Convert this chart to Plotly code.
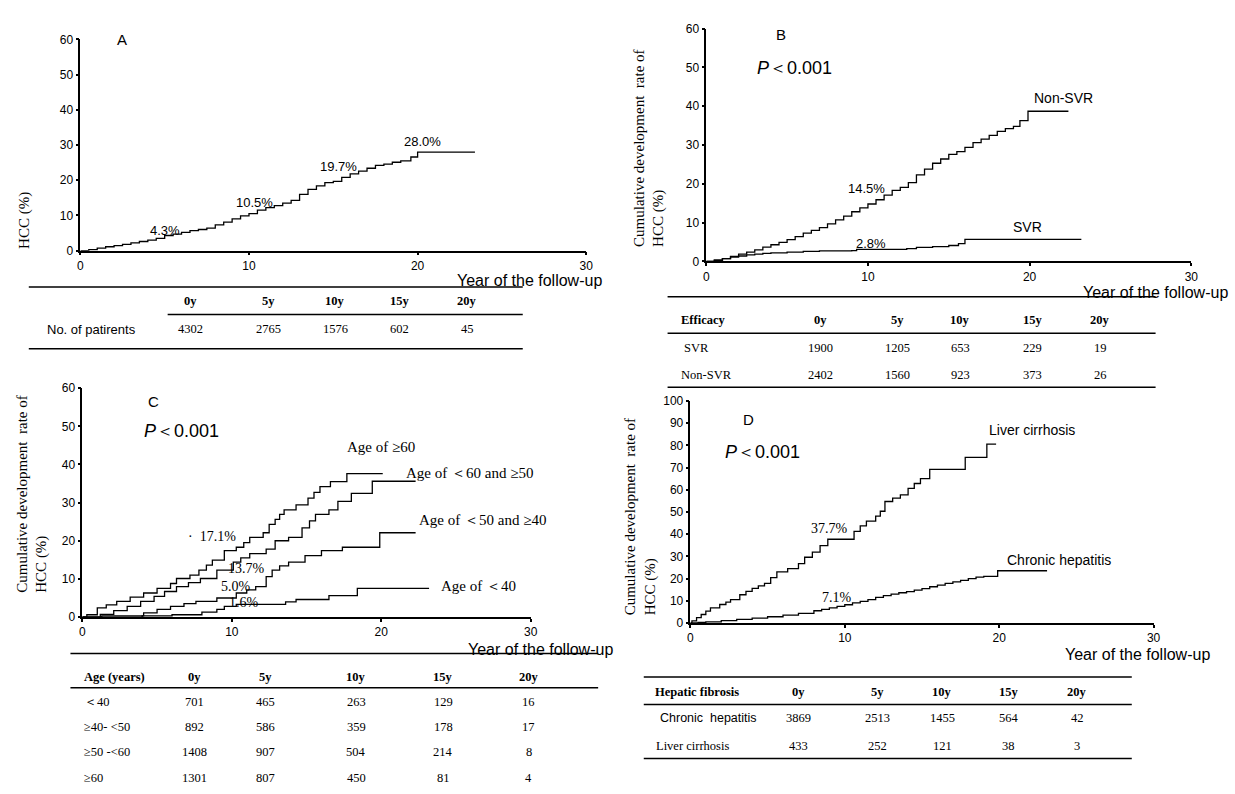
import plotly.graph_objects as go

W, H = 1235, 794
SERIF = "Liberation Serif"
SANS = "Liberation Sans"

# ---------------- data ----------------
# Panel A: all patients
a_years = [0, 0.5, 1.0, 1.5, 2.0, 2.5, 3.0, 3.5, 4.0, 4.5, 5.0, 5.5, 6.0, 6.5, 7.0, 7.5, 8.0, 8.5,
           9.0, 9.5, 10.0, 10.5, 11.0, 11.5, 12.0, 12.5, 13.0, 13.5, 14.0, 14.5, 15.0, 15.5, 16.0,
           16.5, 17.0, 17.5, 18.0, 18.5, 19.0, 19.6, 20.0, 23.4]
a_hcc = [0, 0.3, 0.7, 1.1, 1.4, 1.8, 2.2, 2.6, 3.0, 3.5, 4.3, 4.7, 5.2, 5.7, 6.0, 6.4, 7.3, 8.1,
         9.0, 9.9, 10.5, 11.5, 12.2, 12.8, 13.5, 14.3, 16.0, 17.4, 18.4, 19.3, 19.7, 20.8, 21.8,
         22.6, 23.4, 24.2, 24.6, 25.1, 25.5, 26.6, 28.0, 28.0]

# Panel B: efficacy
b_nonsvr_years = [0, 0.5, 1.0, 1.5, 2.0, 2.5, 3.0, 3.5, 4.0, 4.5, 5.0, 5.5, 6.0, 6.5, 7.0, 7.5,
                  8.0, 8.5, 9.0, 9.5, 10.0, 10.5, 11.0, 11.5, 12.0, 12.5, 13.0, 13.5, 14.0, 14.5,
                  15.0, 15.5, 16.0, 16.5, 17.0, 17.5, 18.0, 18.5, 19.0, 19.4, 19.9, 22.4]
b_nonsvr_rate = [0, 0.3, 0.7, 1.3, 1.9, 2.4, 3.0, 3.7, 4.3, 4.9, 5.6, 6.4, 7.3, 8.0, 8.7, 9.7,
                 10.7, 11.7, 12.8, 13.8, 14.8, 15.9, 17.1, 18.3, 19.1, 20.3, 22.3, 23.8, 25.3, 26.4,
                 27.6, 28.3, 29.4, 30.6, 31.5, 32.5, 33.5, 34.2, 34.8, 36.3, 38.7, 38.7]
b_svr_years = [0, 0.5, 1.0, 1.5, 2.0, 2.5, 3.0, 3.5, 4.0, 5.0, 6.0, 7.0, 9.0, 9.3, 12.4, 13.0,
               14.0, 15.0, 15.6, 16.0, 23.2]
b_svr_rate = [0, 0.3, 0.7, 1.1, 1.4, 1.7, 1.9, 2.1, 2.2, 2.4, 2.6, 2.7, 2.8, 3.1, 3.3, 3.6,
              3.8, 4.1, 4.6, 5.7, 5.7]

# Panel C: age groups
c_ge60_years = [0, 0.3, 1.0, 1.6, 2.3, 3.2, 4.1, 5.0, 5.9, 6.3, 7.2, 7.8, 8.3, 8.7, 9.5, 10.3,
                10.8, 11.2, 12.1, 12.5, 12.9, 13.2, 13.5, 14.3, 15.1, 15.5, 15.9, 16.6, 17.7, 20.1]
c_ge60_rate = [0, 0.6, 2.4, 3.2, 4.1, 5.2, 6.3, 7.5, 8.8, 10.1, 11.0, 12.3, 13.6, 14.9, 17.4, 18.3,
               19.5, 20.9, 22.1, 24.3, 25.6, 26.9, 28.1, 29.4, 31.2, 32.7, 34.2, 35.5, 37.6, 37.6]
c_50_60_years = [0, 1.2, 2.1, 3.0, 3.9, 4.8, 5.5, 6.3, 7.1, 7.9, 9.0, 10.1, 10.6, 11.2, 12.3, 12.9,
                 13.8, 14.7, 15.2, 15.6, 16.5, 17.1, 18.0, 19.4, 22.3]
c_50_60_rate = [0, 0.7, 1.7, 2.8, 4.1, 5.4, 6.7, 8.0, 9.0, 10.1, 12.3, 14.4, 15.5, 16.6, 17.8, 20.0,
                20.9, 23.4, 25.2, 26.9, 28.1, 30.3, 32.4, 35.6, 35.6]
c_40_50_years = [0, 1.3, 4.1, 5.0, 5.9, 6.8, 7.6, 9.0, 10.3, 11.0, 11.6, 12.3, 12.7, 13.2, 13.8,
                 14.9, 16.0, 17.4, 19.9, 22.3]
c_40_50_rate = [0, 0.3, 1.1, 2.0, 2.8, 3.5, 4.1, 5.0, 6.3, 7.1, 8.0, 10.6, 12.3, 13.4, 14.4,
                16.1, 17.4, 18.3, 22.1, 22.1]
c_lt40_years = [0, 4.0, 6.0, 8.0, 9.0, 9.5, 10.3, 13.6, 14.3, 16.5, 18.4, 23.2]
c_lt40_rate = [0, 0.3, 0.6, 1.3, 2.0, 2.8, 3.3, 4.0, 4.6, 5.6, 7.5, 7.5]

# Panel D: hepatic fibrosis
d_lc_years = [0, 0.1, 0.4, 0.7, 1.0, 1.3, 1.9, 2.3, 2.6, 3.2, 3.6, 4.0, 4.4, 4.8, 5.2, 5.6, 6.3,
              7.0, 7.4, 7.9, 8.4, 8.9, 10.6, 11.0, 11.4, 12.0, 12.3, 12.6, 13.1, 13.6, 14.1,
              14.5, 14.9, 15.5, 17.8, 19.2, 19.8]
d_lc_rate = [0, 0.9, 2.4, 3.8, 5.3, 6.8, 8.3, 9.4, 10.5, 12.7, 14.2, 15.6, 16.7, 17.8, 20.4, 23.0,
             24.5, 26.7, 29.6, 31.9, 34.8, 37.7, 41.2, 43.7, 45.9, 48.1, 50.3, 54.7, 56.2, 57.7,
             60.6, 62.8, 65.0, 69.2, 74.6, 80.5, 80.5]
d_ch_years = [0, 0.5, 1.0, 2.0, 3.0, 4.0, 5.0, 6.0, 7.0, 8.0, 8.5, 9.0, 9.5, 10.0, 10.5, 11.0,
              11.5, 12.0, 12.5, 13.0, 13.5, 14.0, 14.5, 15.0, 15.5, 16.0, 16.5, 17.0, 17.5, 18.0,
              18.5, 19.0, 19.9, 23.1]
d_ch_rate = [0, 0.3, 0.5, 1.0, 1.6, 2.2, 2.8, 3.5, 4.3, 5.5, 6.1, 6.8, 7.5, 8.2, 9.0, 9.7,
             10.5, 11.5, 12.3, 13.0, 13.6, 14.1, 14.8, 15.5, 16.3, 17.0, 17.8, 18.5, 19.2, 20.0,
             20.6, 21.0, 23.5, 23.5]

# Tables
year_cols = ["0y", "5y", "10y", "15y", "20y"]
a_row_label = "No. of patirents"
a_counts = [4302, 2765, 1576, 602, 45]
b_groups = ["SVR", "Non-SVR"]
b_counts = [[1900, 1205, 653, 229, 19], [2402, 1560, 923, 373, 26]]
c_groups = ["\uff1c40", "\u226540- <50", "\u226550 -<60", "\u226560"]
c_counts = [[701, 465, 263, 129, 16], [892, 586, 359, 178, 17],
            [1408, 907, 504, 214, 8], [1301, 807, 450, 81, 4]]
d_groups = ["Chronic  hepatitis", "Liver cirrhosis"]
d_counts = [[3869, 2513, 1455, 564, 42], [433, 252, 121, 38, 3]]


def px(x):
    return x / W


def py(y):
    return 1 - y / H


fig = go.Figure()

LINE = dict(color="black", width=1.3, shape="hv")


def add_curve(xs, ys, ax):
    fig.add_trace(go.Scatter(x=xs, y=ys, mode="lines", line=LINE, xaxis="x" + ax, yaxis="y" + ax,
                             showlegend=False, hoverinfo="skip"))


add_curve(a_years, a_hcc, "")
add_curve(b_nonsvr_years, b_nonsvr_rate, "2")
add_curve(b_svr_years, b_svr_rate, "2")
add_curve(c_ge60_years, c_ge60_rate, "3")
add_curve(c_50_60_years, c_50_60_rate, "3")
add_curve(c_40_50_years, c_40_50_rate, "3")
add_curve(c_lt40_years, c_lt40_rate, "3")
add_curve(d_lc_years, d_lc_rate, "4")
add_curve(d_ch_years, d_ch_rate, "4")

ax_common = dict(showline=True, linecolor="black", linewidth=1.5, ticks="outside", ticklen=3,
                 tickcolor="black", tickwidth=1.5, showgrid=False, zeroline=False,
                 tickfont=dict(family=SANS, size=12, color="black"), fixedrange=True)

# panel geometry (pixels): x at 0, x at 30, y at 0, y at top value, top value
panels = {
    "": (78, 588, 248, 33, 60),
    "2": (709, 1198, 259, 22, 60),
    "3": (80, 532, 621, 388, 60),
    "4": (693, 1160, 627, 401, 100),
}
layout_axes = {}
for key, (x0, x30, y0, yt, ytv) in panels.items():
    layout_axes["xaxis" + key] = dict(ax_common, domain=[px(x0), px(x30)], range=[0, 30],
                                      tickvals=[0, 10, 20, 30], anchor="y" + key)
    layout_axes["yaxis" + key] = dict(ax_common, domain=[py(y0), py(yt)], range=[0, ytv],
                                      tickvals=list(range(0, ytv + 1, 10)), anchor="x" + key)

anns = []


def ann(text, x, y, size=13, family=SERIF, xanchor="center", yanchor="middle", **kw):
    anns.append(dict(text=text, x=px(x), y=py(y), xref="paper", yref="paper", showarrow=False,
                     font=dict(size=size, family=family, color="black"),
                     xanchor=xanchor, yanchor=yanchor, **kw))


def dann(text, x, y, ax, size=13, family=SANS, xanchor="center"):
    anns.append(dict(text=text, x=x, y=y, xref="x" + ax, yref="y" + ax, showarrow=False,
                     font=dict(size=size, family=family, color="black"), xanchor=xanchor,
                     yanchor="middle"))


# panel letters and P values
ann("A", 120, 33, size=15, family=SANS)
ann("B", 784, 28, size=15, family=SANS)
ann("C", 152, 402, size=15, family=SANS)
ann("D", 752, 420, size=15, family=SANS)
for (x, y) in [(758, 62), (140, 432), (726, 453)]:
    ann("<i>P</i>\uff1c0.001", x, y, size=18, family=SANS, xanchor="left")

# axis titles
XT = "Year of the follow-up"
ann(XT, 531, 278, size=16, family=SANS)
ann(XT, 1237, 291, size=16, family=SANS, xanchor="right")
ann(XT, 542, 654, size=16, family=SANS)
ann(XT, 1144, 659, size=16, family=SANS)

ann("HCC (%)", 21, 248, size=15, textangle=-90, yanchor="bottom")
YT = "Cumulative development  rate of<br>HCC (%)"
ann(YT, 651, 246, size=15, textangle=-90, yanchor="bottom", align="left")
ann(YT, 30, 598, size=15, textangle=-90, yanchor="bottom", align="left")
ann(YT, 643, 621, size=15, textangle=-90, yanchor="bottom", align="left")

# curve labels
dann("4.3%", 5.0, 5.8, "")
dann("10.5%", 10.3, 13.7, "")
dann("19.7%", 15.3, 24.0, "")
dann("28.0%", 20.3, 31.0, "")

dann("Non-SVR", 22.1, 42.0, "2", size=14)
dann("SVR", 19.9, 9.0, "2", size=14)
dann("14.5%", 9.9, 18.7, "2")
dann("2.8%", 10.2, 4.6, "2")

dann("Age of \u226560", 20.0, 44.6, "3", size=15, family=SERIF)
dann("Age of \uff1c60 and \u226550", 25.9, 37.8, "3", size=15, family=SERIF)
dann("Age of \uff1c50 and \u226540", 26.8, 25.5, "3", size=15, family=SERIF)
dann("Age of \uff1c40", 26.5, 8.1, "3", size=15, family=SERIF)
dann("\u00b7  17.1%", 8.7, 21.0, "3", family=SERIF, size=14)
dann("13.7%", 11.0, 12.6, "3", family=SERIF, size=14)
dann("5.0%", 10.3, 8.1, "3", family=SERIF, size=14)
dann("1.6%", 10.8, 3.8, "3", family=SERIF, size=14)

dann("Liver cirrhosis", 22.1, 86.7, "4", size=14)
dann("Chronic hepatitis", 23.9, 28.4, "4", size=14)
dann("37.7%", 9.0, 42.4, "4", family=SERIF, size=14)
dann("7.1%", 9.5, 11.4, "4", family=SERIF, size=14)

# ---------------- tables ----------------
shapes = []


def hline(x0, x1, y, w=1.5):
    shapes.append(dict(type="line", xref="paper", yref="paper", x0=px(x0), x1=px(x1),
                       y0=py(y), y1=py(y), line=dict(color="black", width=w)))


TS = 12.5
# Table A
hline(26, 524, 285)
hline(166, 524, 313)
hline(26, 524, 348)
a_cols = [189, 268, 335, 400, 468]
for c, lab in zip(a_cols, year_cols):
    ann("<b>%s</b>" % lab, c, 299, size=TS)
ann(a_row_label, 89, 328, size=13, family=SANS)
for c, v in zip(a_cols, a_counts):
    ann(str(v), c, 328, size=TS)

# Table B
hline(670, 1162, 295)
hline(670, 1162, 332)
hline(670, 1162, 387)
b_cols = [824, 902, 965, 1038, 1106]
ann("<b>Efficacy</b>", 682, 319, size=TS, xanchor="left")
for c, lab in zip(b_cols, year_cols):
    ann("<b>%s</b>" % lab, c, 319, size=TS)
for ry, g, row in zip([347, 375], b_groups, b_counts):
    ann(g, 685 if g == "SVR" else 682, ry, size=TS, xanchor="left")
    for c, v in zip(b_cols, row):
        ann(str(v), c, ry, size=TS)

# Table C
hline(68, 600, 658)
hline(68, 600, 693)
c_cols = [193, 265, 356, 444, 530]
ann("<b>Age (years)</b>", 80, 682, size=TS, xanchor="left")
for c, lab in zip(c_cols, year_cols):
    ann("<b>%s</b>" % lab, c, 682, size=TS)
for ry, g, row in zip([707, 733, 758, 785], c_groups, c_counts):
    ann(g, 80, ry, size=TS, xanchor="left")
    for c, v in zip(c_cols, row):
        ann(str(v), c, ry, size=TS)

# Table D
hline(646, 1138, 682)
hline(646, 1138, 710)
hline(646, 1138, 765)
d_cols = [802, 882, 947, 1014, 1083]
ann("<b>Hepatic fibrosis</b>", 655, 697, size=TS, xanchor="left")
for c, lab in zip(d_cols, year_cols):
    ann("<b>%s</b>" % lab, c, 697, size=TS)
for ry, g, row in zip([724, 752], d_groups, d_counts):
    is_ch = g.startswith("Chronic")
    ann(g, 660 if is_ch else 656, ry, size=TS, xanchor="left", family=SANS if is_ch else SERIF)
    for c, v in zip(d_cols, row):
        ann(str(v), c, ry, size=TS)

fig.update_layout(width=W, height=H, autosize=False, margin=dict(l=0, r=0, t=0, b=0),
                  paper_bgcolor="white", plot_bgcolor="white", showlegend=False,
                  annotations=anns, shapes=shapes, **layout_axes)

fig.write_html("out.html")
